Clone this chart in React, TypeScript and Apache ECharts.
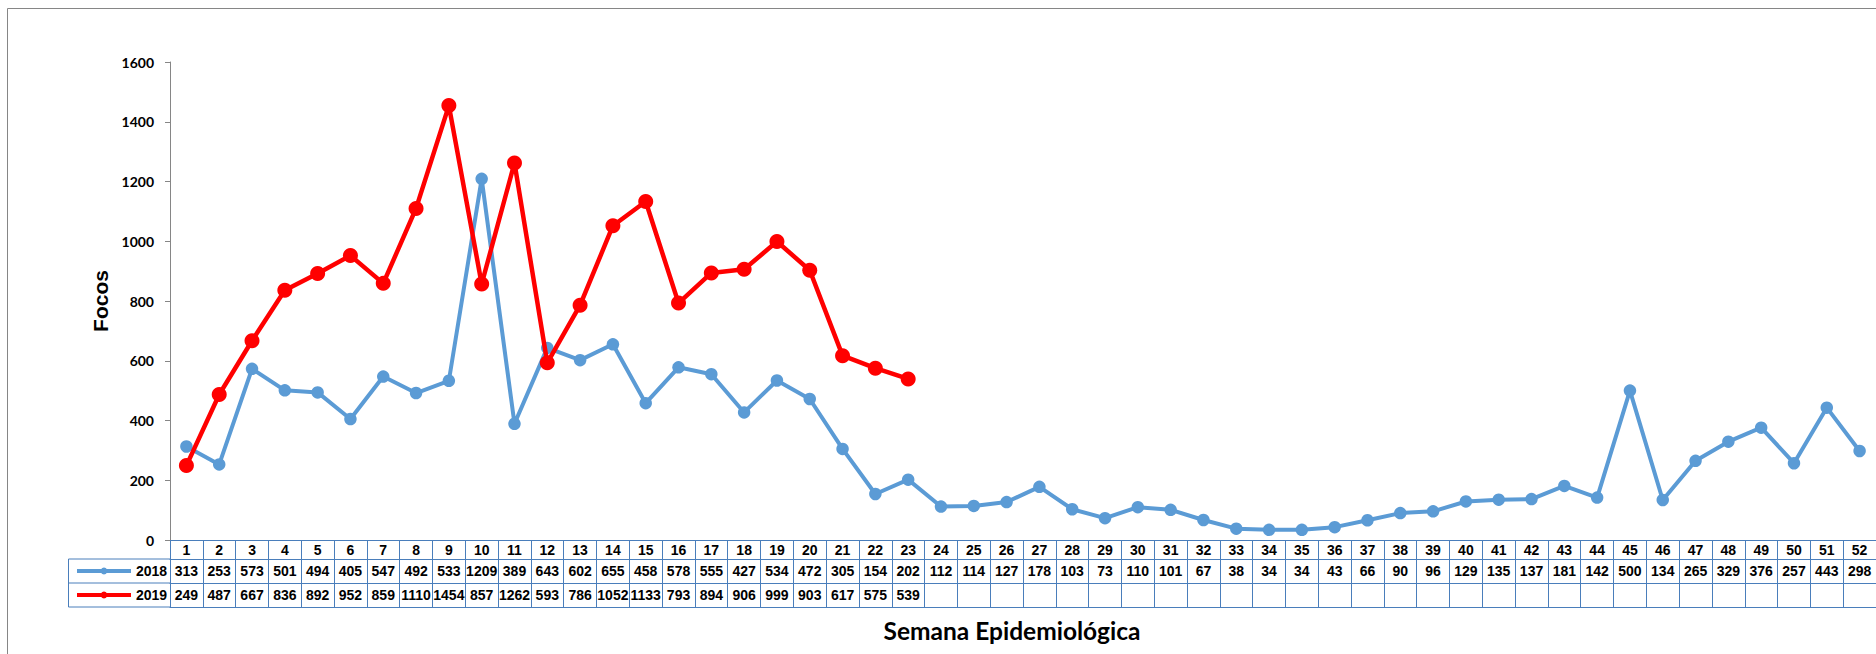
import React, { useEffect, useRef } from "react";
import * as echarts from "echarts";

const weeks: string[] = Array.from({ length: 52 }, (_, i) => String(i + 1));
const focos2018: number[] = [
  313, 253, 573, 501, 494, 405, 547, 492, 533, 1209,
  389, 643, 602, 655, 458, 578, 555, 427, 534, 472,
  305, 154, 202, 112, 114, 127, 178, 103, 73, 110,
  101, 67, 38, 34, 34, 43, 66, 90, 96, 129,
  135, 137, 181, 142, 500, 134, 265, 329, 376, 257,
  443, 298,
];
const focos2019: number[] = [
  249, 487, 667, 836, 892, 952, 859, 1110, 1454, 857,
  1262, 593, 786, 1052, 1133, 793, 894, 906, 999, 903,
  617, 575, 539,
];
const seriesNames = ["2018", "2019"];
const yTicks = { min: 0, max: 1600, interval: 200 };

const BLUE = "#5B9BD5";
const RED = "#FF0000";
const TABLE = "#4A7EBB";
const GRAY = "#868686";
const ARIAL = "'Liberation Sans', Arial, sans-serif";
const CALI = "Lato, 'Open Sans', sans-serif";

export default function App() {
  const ref = useRef<HTMLDivElement>(null);
  useEffect(() => {
    document.body.style.margin = "0";
    document.body.style.overflow = "hidden";
    const chart = echarts.init(ref.current!, undefined, { renderer: "svg" });
    const colW = 32.94;
    const gridLeft = 170;
    const tableLabel = {
      fontFamily: ARIAL,
      fontWeight: "bold" as const,
      fontSize: 14,
      color: "#000",
      verticalAlign: "middle" as const,
      interval: 0,
    };
    const tableAxis = (offset: number, tickLen: number, formatter: any, showLabel = true, showTick = true) => ({
      type: "category" as const,
      data: weeks,
      position: "bottom" as const,
      offset,
      boundaryGap: true,
      axisLine: { show: true, onZero: false, lineStyle: { color: TABLE, width: 1 } },
      axisTick: { show: showTick, interval: 0, length: tickLen, lineStyle: { color: TABLE, width: 1 } },
      axisLabel: { show: showLabel, ...tableLabel, margin: tickLen / 2, formatter },
      splitLine: { show: false },
    });
    chart.setOption({
      animation: false,
      backgroundColor: "#fff",
      grid: { left: gridLeft, top: 62, width: colW * 52, height: 478, containLabel: false },
      legend: {
        orient: "vertical",
        left: 75,
        top: 564,
        padding: 0,
        itemWidth: 54,
        itemHeight: 8.5,
        itemGap: 10,
        textStyle: { fontFamily: ARIAL, fontWeight: "bold", fontSize: 14, color: "#000", lineHeight: 14 },
        data: [
          { name: seriesNames[0], lineStyle: { width: 4, color: BLUE }, itemStyle: { color: BLUE } },
          { name: seriesNames[1], lineStyle: { width: 4, color: RED }, itemStyle: { color: RED } },
        ],
      },
      xAxis: [
        tableAxis(0, 19, (v: string) => v),
        tableAxis(19, 24, (_v: string, i: number) => (focos2018[i] != null ? String(focos2018[i]) : "")),
        tableAxis(43, 24, (_v: string, i: number) => (focos2019[i] != null ? String(focos2019[i]) : "")),
        tableAxis(67, 0, () => "", false, false),
      ],
      yAxis: {
        type: "value",
        min: yTicks.min,
        max: yTicks.max,
        interval: yTicks.interval,
        name: "Focos",
        nameLocation: "middle",
        nameRotate: 90,
        nameGap: 56,
        nameTextStyle: { fontFamily: ARIAL, fontWeight: "bold", fontSize: 21, color: "#000" },
        axisLine: { show: true, lineStyle: { color: GRAY, width: 1 } },
        axisTick: { show: true, length: 5, lineStyle: { color: GRAY } },
        axisLabel: {
          margin: 16,
          fontFamily: CALI,
          fontWeight: "bold",
          fontSize: 14,
          color: "#000",
          formatter: (v: number) => String(v),
        },
        splitLine: { show: false },
      },
      series: [
        {
          name: seriesNames[0],
          type: "line",
          data: focos2018,
          xAxisIndex: 0,
          symbol: "circle",
          symbolSize: 12.5,
          color: BLUE,
          lineStyle: { width: 4, color: BLUE },
          itemStyle: { color: BLUE },
          z: 3,
        },
        {
          name: seriesNames[1],
          type: "line",
          data: focos2019,
          xAxisIndex: 0,
          symbol: "circle",
          symbolSize: 15,
          color: RED,
          lineStyle: { width: 4.5, color: RED },
          itemStyle: { color: RED },
          z: 4,
        },
      ],
      graphic: [
        {
          type: "rect",
          silent: true,
          shape: { x: 7.5, y: 8.5, width: 2000, height: 1000 },
          style: { fill: "none", stroke: GRAY, lineWidth: 1 },
          z: -10,
        },
        {
          type: "polyline",
          silent: true,
          shape: { points: [[gridLeft, 559], [68.5, 559], [68.5, 607], [gridLeft, 607]] },
          style: { fill: "none", stroke: TABLE, lineWidth: 1 },
        },
        {
          type: "line",
          silent: true,
          shape: { x1: 68.5, y1: 583, x2: gridLeft, y2: 583 },
          style: { stroke: TABLE, lineWidth: 1 },
        },
        {
          type: "text",
          x: 1012,
          y: 630,
          style: {
            text: "Semana Epidemiológica",
            fontFamily: CALI,
            fontWeight: "bold",
            fontSize: 24.5,
            fill: "#000",
            align: "center",
            verticalAlign: "middle",
          },
        },
      ],
    });
    return () => chart.dispose();
  }, []);
  return <div ref={ref} style={{ width: "1876px", height: "654px" }} />;
}
